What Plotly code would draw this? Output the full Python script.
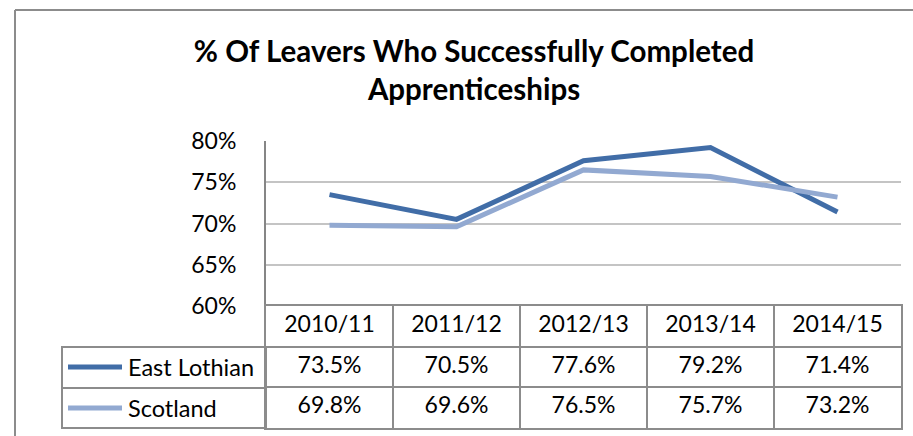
import plotly.graph_objects as go

years = ["2010/11", "2011/12", "2012/13", "2013/14", "2014/15"]
east_lothian = [0.735, 0.705, 0.776, 0.792, 0.714]
scotland = [0.698, 0.696, 0.765, 0.757, 0.732]
series_names = ["East Lothian", "Scotland"]
y_ticks = [0.60, 0.65, 0.70, 0.75, 0.80]

W, H = 913, 436
dark_blue = "#416DA7"
light_blue = "#92A9D1"
grid_col = "#C4C4C4"
border_col = "#8C8C8C"
font_name = "Lato"


def px(x):
    return x / W


def py(y):
    return 1 - y / H


fig = go.Figure()

# lines
for name, vals, col in [(series_names[0], east_lothian, dark_blue),
                        (series_names[1], scotland, light_blue)]:
    fig.add_trace(go.Scatter(x=years, y=vals, mode="lines", name=name,
                             line=dict(color=col, width=5),
                             xaxis="x", yaxis="y", showlegend=False))

# data table below the plot
fig.add_trace(go.Scatter(x=years, y=[0.5] * len(years), mode="text", text=years,
                         textfont=dict(size=23, color="#000", family=font_name),
                         xaxis="x2", yaxis="y2", showlegend=False))
for row, vals in enumerate([east_lothian, scotland], start=1):
    fig.add_trace(go.Scatter(x=years, y=[row + 0.5] * len(years), mode="text",
                             text=[f"{v * 100:.1f}%" for v in vals],
                             textfont=dict(size=23, color="#000", family=font_name),
                             xaxis="x2", yaxis="y2", showlegend=False))

x_dom = [px(266), px(901)]
fig.update_layout(
    width=W, height=H,
    margin=dict(l=0, r=0, t=0, b=0, autoexpand=False),
    paper_bgcolor="white", plot_bgcolor="white",
    font=dict(family=font_name, color="#000"),
    title=dict(text="<b>% Of Leavers Who Successfully Completed<br>Apprenticeships</b>",
               x=px(474), xanchor="center", y=py(62), yanchor="middle",
               automargin=False,
               font=dict(size=29.5, family=font_name, color="#000")),
    xaxis=dict(domain=x_dom, anchor="y", type="category", range=[-0.5, 4.5],
               showticklabels=False, showgrid=False, zeroline=False, showline=False,
               automargin=False),
    yaxis=dict(domain=[py(306), py(141)], range=[0.60, 0.80], tickvals=y_ticks,
               tickformat=".0%", showgrid=True, gridcolor=grid_col, gridwidth=2,
               showline=True, linecolor="#868686", linewidth=2, zeroline=False,
               ticks="", ticklabelstandoff=23, automargin=False,
               tickfont=dict(size=23, family=font_name, color="#000")),
    xaxis2=dict(domain=x_dom, anchor="y2", matches="x", type="category",
                showticklabels=False, showgrid=True, tickson="boundaries",
                gridcolor=border_col, gridwidth=2, showline=True, mirror=True,
                linecolor=border_col, linewidth=2, zeroline=False, automargin=False),
    yaxis2=dict(domain=[py(428), py(306)], range=[3, 0], tickvals=[0, 1, 2, 3],
                showticklabels=False, showgrid=True, gridcolor=border_col, gridwidth=2,
                showline=True, mirror=True, linecolor=border_col, linewidth=2,
                zeroline=False, automargin=False),
)

shapes = [
    # outer chart border (left and top visible)
    dict(type="line", xref="paper", yref="paper", x0=px(15), x1=px(15), y0=py(10), y1=0,
         line=dict(color=border_col, width=2)),
    dict(type="line", xref="paper", yref="paper", x0=px(15), x1=1, y0=py(10), y1=py(10),
         line=dict(color=border_col, width=2)),
    # series label column
    dict(type="rect", xref="paper", yref="paper", x0=px(62), x1=px(266), y0=py(428), y1=py(347),
         line=dict(color=border_col, width=2)),
    dict(type="line", xref="paper", yref="paper", x0=px(62), x1=px(266), y0=py(388), y1=py(388),
         line=dict(color=border_col, width=2)),
]
row_mid = [367, 408]
for name, col, ym in zip(series_names, [dark_blue, light_blue], row_mid):
    shapes.append(dict(type="line", xref="paper", yref="paper", x0=px(68), x1=px(122),
                       y0=py(ym), y1=py(ym), line=dict(color=col, width=5)))
    fig.add_annotation(text=name, xref="paper", yref="paper", x=px(126), y=py(ym),
                       xanchor="left", yanchor="middle", showarrow=False,
                       font=dict(size=23.5, family=font_name, color="#000"))
fig.update_layout(shapes=shapes)

fig.write_html("out.html", config={"displayModeBar": False},
               post_script="document.body.style.margin='0';"
                           "document.body.style.overflow='hidden';")
